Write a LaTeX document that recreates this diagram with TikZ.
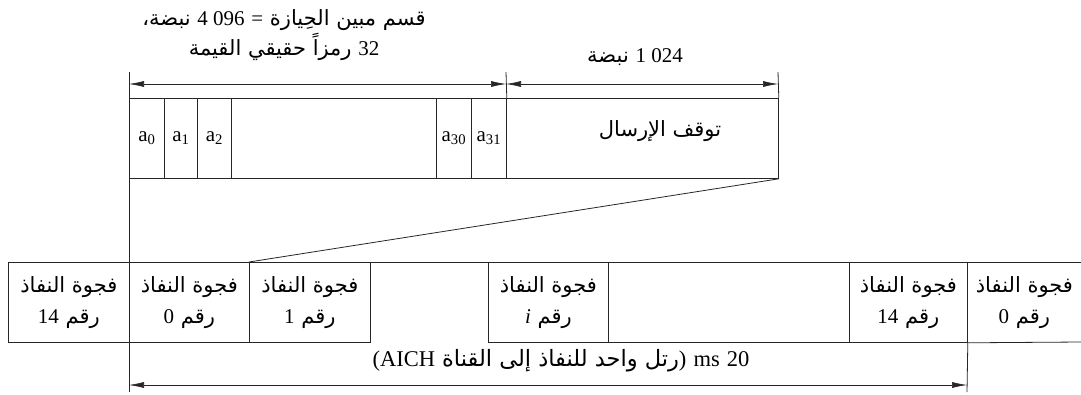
\documentclass[tikz,border=0pt]{standalone}
\usepackage{fontspec}
\setmainfont{Liberation Serif}
\newfontfamily\arabicfont[Script=Arabic]{DejaVu Sans}
\TeXXeTstate=1
\usetikzlibrary{arrows.meta}
\newcommand{\AR}[1]{{\arabicfont\beginR #1\endR}}
\newcommand{\lat}[1]{{\rmfamily #1}}
\begin{document}
\begin{tikzpicture}[x=1pt,y=-1pt, line width=0.8pt, draw=black!85,
  cell/.style={draw=black!85, rectangle, anchor=north west, inner sep=0pt, minimum height=80pt},
  acell/.style={cell, font=\fontsize{21}{21}\selectfont},
  bcell/.style={cell, align=center, font=\fontsize{21}{31}\selectfont},
  lbl/.style={inner sep=0pt, font=\fontsize{21}{24}\selectfont},
  dim/.style={{Latex[length=15pt,width=6pt]}-{Latex[length=15pt,width=6pt]}, line width=0.6pt}]
\useasboundingbox (0,0) rectangle (1081,394);
% top row
\node[acell, minimum width=35pt] (c0) at (129,98) {a\textsubscript{0}};
\node[acell, minimum width=33pt] (c1) at (164,98) {a\textsubscript{1}};
\node[acell, minimum width=34pt] (c2) at (197,98) {a\textsubscript{2}};
\node[acell, minimum width=205pt] (cg) at (231,98) {};
\node[acell, minimum width=35pt] (c30) at (436,98) {a\textsubscript{30}};
\node[acell, minimum width=35pt] (c31) at (471,98) {a\textsubscript{31}};
\node[acell, minimum width=272pt] (stop) at (506,98) {};
\node[lbl] (stoplbl) at (660,131) {\AR{توقف الإرسال}};
% dimension lines
\coordinate (tk0) at (129,72);
\coordinate (tk1) at (506,72);
\coordinate (tk2) at (778,72);
\coordinate (vb0) at (129,392);
\coordinate (vb1) at (967,392);
\coordinate (d0) at (129,84);
\coordinate (d1) at (506,84);
\coordinate (d2) at (778,84);
\coordinate (e0) at (129,385);
\coordinate (e1) at (967,385);
\draw (tk0) -- (vb0);
\draw (tk1) -- (c31.north east);
\draw (tk2) -- (stop.north east);
\draw[dim] (d0) -- (d1);
\draw[dim] (d1) -- (d2);
\node[lbl] (t1) at (284,20) {\AR{قسم مبين الحِيازة \lat{=} \lat{\beginL 4 096\endL} نبضة،}};
\node[lbl] (t2) at (284,47) {\AR{\lat{32} رمزاً حقيقي القيمة}};
\node[lbl] (t3) at (635,57) {\AR{\lat{\beginL 1 024\endL} نبضة}};
% bottom row
\node[bcell, minimum width=121pt] (b14L) at (8,262) {\AR{فجوة النفاذ}\\\AR{رقم \lat{14}}};
\node[bcell, minimum width=120pt] (b0) at (129,262) {\AR{فجوة النفاذ}\\\AR{رقم \lat{0}}};
\node[bcell, minimum width=121pt] (b1) at (249,262) {\AR{فجوة النفاذ}\\\AR{رقم \lat{1}}};
\node[bcell, minimum width=120pt] (bi) at (488,262) {\AR{فجوة النفاذ}\\\AR{رقم \lat{\itshape i}}};
\node[bcell, minimum width=241pt] (bg) at (608,262) {};
\node[bcell, minimum width=118pt] (b14) at (849,262) {\AR{فجوة النفاذ}\\\AR{رقم \lat{14}}};
\node[bcell, draw=none, minimum width=114pt] (b0R) at (967,262) {\AR{فجوة النفاذ}\\\AR{رقم \lat{0}}};
\coordinate (rt) at (1081,262);
\coordinate (rb) at (1081,342);
\draw (b1.north east) -- (rt);
\draw (b14.south east) -- (rb);
\draw (b14.south east) -- (vb1);
% zoom line
\draw (stop.south east) -- (b1.north west);
% bottom dimension
\draw[dim] (e0) -- (e1);
\node[lbl, font=\fontsize{22.5}{24}\selectfont] (t4) at (561,361) {\AR{\lat{20} \lat{ms} \lat{)}رتل واحد للنفاذ إلى القناة \lat{(AICH}}};
\end{tikzpicture}
\end{document}
